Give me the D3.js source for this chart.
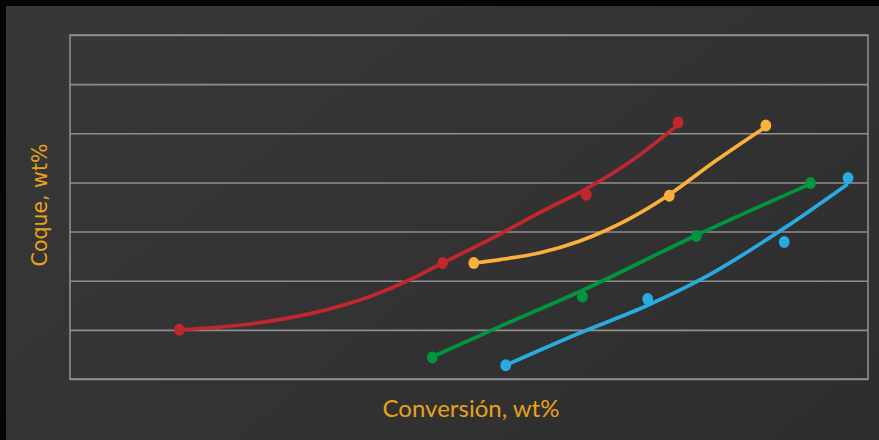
<!DOCTYPE html>
<html>
<head>
<meta charset="utf-8">
<script src="https://cdn.jsdelivr.net/npm/d3@7"></script>
<style>
  html, body { margin: 0; padding: 0; background: #000; }
  svg { display: block; }
</style>
</head>
<body>
<svg id="chart" width="879" height="440"></svg>
<script>
// Coke yield vs. conversion for four feeds: measured points plus a fitted trend curve each.
const seriesNames = ["A", "B", "C", "D"];
const seriesColors = ["#c1272d", "#fbb03b", "#00953f", "#29abe2"];

// measured points (conversion, coke)
const pointsConvA = [13.7, 46.7, 64.7, 76.2];
const pointsCokeA = [1.00, 2.36, 3.75, 5.22];
const pointsConvB = [50.6, 75.1, 87.2];
const pointsCokeB = [2.36, 3.73, 5.16];
const pointsConvC = [45.4, 64.2, 78.5, 92.8];
const pointsCokeC = [0.44, 1.68, 2.91, 3.99];
const pointsConvD = [54.6, 72.4, 89.5, 97.5];
const pointsCokeD = [0.28, 1.63, 2.79, 4.09];

// fitted trend curves (conversion, coke)
const trendConvA = [13.5, 22.6, 30.1, 37.6, 42.6, 46.7, 53.9, 58.9, 64.7, 70.2, 75.8];
const trendCokeA = [1.00, 1.12, 1.33, 1.68, 2.02, 2.36, 2.95, 3.39, 3.87, 4.42, 5.12];
const trendConvB = [50.6, 53.9, 58.9, 63.9, 70.2, 74.9, 81.0, 86.8];
const trendCokeB = [2.36, 2.43, 2.57, 2.81, 3.27, 3.73, 4.45, 5.09];
const trendConvC = [45.4, 53.9, 64.3, 78.3, 92.5];
const trendCokeC = [0.45, 1.07, 1.81, 2.91, 3.95];
const trendConvD = [54.6, 63.5, 72.4, 79.0, 89.5, 97.3];
const trendCokeD = [0.28, 0.91, 1.50, 2.02, 3.07, 3.95];

const cokeTicks = [0, 1, 2, 3, 4, 5, 6, 7];
const xTitle = "Conversión, wt%";
const yTitle = "Coque, wt%";

const pointsConv = [pointsConvA, pointsConvB, pointsConvC, pointsConvD];
const pointsCoke = [pointsCokeA, pointsCokeB, pointsCokeC, pointsCokeD];
const trendConv = [trendConvA, trendConvB, trendConvC, trendConvD];
const trendCoke = [trendCokeA, trendCokeB, trendCokeC, trendCokeD];

const W = 879, H = 440;
const margin = { left: 70, right: 11, top: 35, bottom: 61 };
const svg = d3.select("#chart");

// backdrop
const defs = svg.append("defs");
const bg = defs.append("linearGradient").attr("id", "bg")
  .attr("x1", "0").attr("y1", "0.2").attr("x2", "1").attr("y2", "0.8");
bg.append("stop").attr("offset", "0").attr("stop-color", "#373737");
bg.append("stop").attr("offset", "0.5").attr("stop-color", "#333333");
bg.append("stop").attr("offset", "1").attr("stop-color", "#2e2e2e");
svg.append("rect").attr("width", W).attr("height", H).attr("fill", "#050505");
svg.append("rect").attr("x", 6).attr("y", 6).attr("width", W - 6).attr("height", H - 6)
  .attr("fill", "url(#bg)");

const x = d3.scaleLinear().domain([0, 100]).range([margin.left, W - margin.right]);
const y = d3.scaleLinear().domain([0, 7]).range([H - margin.bottom, margin.top]);

// horizontal grid
const gridColor = "#8e8e8e";
svg.append("g")
  .attr("transform", `translate(${margin.left},0)`)
  .call(d3.axisLeft(y).tickValues(cokeTicks).tickSize(-(W - margin.left - margin.right)).tickFormat(""))
  .call(g => g.select(".domain").remove())
  .call(g => g.selectAll(".tick line").attr("stroke", gridColor).attr("stroke-width", 1.6));

// plot frame
svg.append("rect")
  .attr("x", x(0)).attr("y", y(7))
  .attr("width", x(100) - x(0)).attr("height", y(0) - y(7))
  .attr("fill", "none").attr("stroke", gridColor).attr("stroke-width", 1.6);

// trend curves
const line = d3.line().x(d => x(d[0])).y(d => y(d[1])).curve(d3.curveMonotoneX);
seriesNames.forEach((name, i) => {
  const pts = trendConv[i].map((c, j) => [c, trendCoke[i][j]]);
  svg.append("path")
    .datum(pts)
    .attr("d", line)
    .attr("fill", "none")
    .attr("stroke", seriesColors[i])
    .attr("stroke-width", 3.7)
    .attr("stroke-linecap", "round");
});

// measured points
seriesNames.forEach((name, i) => {
  const pts = pointsConv[i].map((c, j) => [c, pointsCoke[i][j]]);
  svg.append("g").selectAll("ellipse")
    .data(pts).join("ellipse")
    .attr("cx", d => x(d[0])).attr("cy", d => y(d[1]))
    .attr("rx", 5.4).attr("ry", 6)
    .attr("fill", seriesColors[i]);
});

// axis titles
const titleColor = "#e8a11c";
svg.append("text")
  .attr("x", 471).attr("y", 417)
  .attr("text-anchor", "middle")
  .attr("fill", titleColor)
  .style("font-family", "Lato, 'Open Sans', sans-serif")
  .style("font-size", "24px")
  .text(xTitle);

svg.append("text")
  .attr("transform", "translate(47,205) rotate(-90)")
  .attr("text-anchor", "middle")
  .attr("fill", titleColor)
  .style("font-family", "'DejaVu Sans', sans-serif")
  .style("font-size", "20.5px")
  .text(yTitle);
</script>
</body>
</html>
